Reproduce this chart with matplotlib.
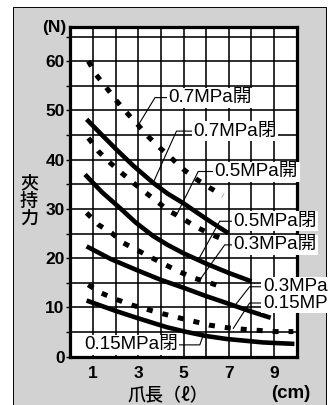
import numpy as np
import matplotlib
matplotlib.use('Agg')
import matplotlib.pyplot as plt
from matplotlib.patches import Rectangle

# Clamping force (N) vs. jaw length (cm)
x_07_open = [0.8, 1.13, 1.6, 2.05, 2.5, 3.0, 3.44, 3.96, 4.4, 4.98, 5.58, 6.16, 6.75]
y_07_open = [60.0, 57.3, 54.6, 51.9, 49.5, 47.0, 44.7, 42.4, 40.6, 38.1, 36.0, 34.3, 32.7]

x_07_close = [0.72, 1.4, 2.05, 2.8, 3.66, 4.3, 4.98, 6.0, 6.97]
y_07_close = [48.2, 45.0, 42.0, 38.7, 35.3, 33.1, 31.2, 28.0, 25.1]

x_05_open = [0.8, 1.24, 1.75, 2.27, 2.78, 3.3, 3.81, 4.32, 4.91, 5.5, 6.1, 6.75]
y_05_open = [44.4, 41.7, 39.4, 37.3, 35.3, 33.4, 31.6, 29.7, 28.2, 26.5, 25.1, 23.8]

x_05_close = [0.65, 1.4, 2.19, 2.9, 3.66, 4.3, 5.0, 6.0, 7.0, 8.0]
y_05_close = [37.0, 33.4, 30.2, 27.2, 24.5, 22.7, 21.0, 18.9, 17.0, 15.3]

x_03_open = [0.72, 1.24, 1.83, 2.34, 2.93, 3.59, 4.18, 4.8, 5.43, 6.16, 6.8]
y_03_open = [29.2, 26.8, 25.1, 23.1, 21.7, 20.1, 18.7, 17.3, 16.0, 15.0, 14.0]

x_03_close = [0.72, 1.8, 2.93, 4.0, 5.06, 6.0, 6.9, 7.9, 8.85]
y_03_close = [22.4, 19.8, 17.6, 15.6, 13.9, 12.3, 10.9, 9.3, 7.9]

x_015_open = [0.79, 1.38, 2.05, 2.78, 3.44, 4.1, 4.8, 5.43, 6.16, 6.9, 7.56, 8.29, 9.03, 9.85]
y_015_open = [14.6, 12.9, 11.6, 10.4, 9.55, 8.7, 7.9, 7.2, 6.4, 5.9, 5.6, 5.35, 5.1, 5.1]

x_015_close = [0.72, 2.0, 2.93, 4.25, 5.06, 6.0, 6.9, 8.5, 9.9]
y_015_close = [11.4, 9.3, 7.9, 6.0, 5.1, 4.2, 3.6, 2.9, 2.6]

x_ticks = [1, 3, 5, 7, 9]
y_ticks = [0, 10, 20, 30, 40, 50, 60]

curves = [
    (x_07_open, y_07_open, 'open'),
    (x_07_close, y_07_close, 'close'),
    (x_05_open, y_05_open, 'open'),
    (x_05_close, y_05_close, 'close'),
    (x_03_open, y_03_open, 'open'),
    (x_03_close, y_03_close, 'close'),
    (x_015_open, y_015_open, 'open'),
    (x_015_close, y_015_close, 'close'),
]

# label text, curve index, text x, text y, elbow x, target x, anchor
labels = [
    ('0.7MPa開', 0, 4.32, 52.6, 3.74, 3.0, 'left'),
    ('0.7MPa閉', 1, 5.43, 45.8, 4.69, 3.66, 'left'),
    ('0.5MPa開', 2, 6.38, 37.6, 5.65, 4.69, 'left'),
    ('0.5MPa閉', 3, 7.19, 27.5, 6.6, 5.65, 'left'),
    ('0.3MPa開', 4, 7.19, 22.7, 6.82, 5.72, 'left'),
    ('0.3MPa閉', 5, 8.51, 14.2, 7.92, 7.26, 'left'),
    ('0.15MPa開', 6, 8.51, 10.9, 7.92, 7.2, 'left'),
    ('0.15MPa閉', 7, 4.75, 2.4, 5.72, 5.87, 'right'),
]

plt.rcParams['font.family'] = ['Liberation Sans', 'Noto Sans CJK JP', 'DejaVu Sans']
CJK = ['Noto Sans CJK JP', 'DejaVu Sans']

W, H = 328, 405
fig = plt.figure(figsize=(W / 100, H / 100), dpi=100)
fig.patch.set_facecolor('white')

# grey panel behind the chart
panel = Rectangle((13 / W, -0.05), (325.5 - 13) / W, 1.05 - 7 / H,
                  transform=fig.transFigure, facecolor='#d2d2d2',
                  edgecolor='black', lw=0.7, zorder=-1)
fig.add_artist(panel)

ax = fig.add_axes([70.3 / W, 1 - 356.7 / H, (296.7 - 70.3) / W, (356.7 - 26.7) / H])
ax.set_facecolor('white')
ax.set_xlim(0, 10)
ax.set_ylim(0, 67)

ax.set_xticks(x_ticks)
ax.set_xticks(np.arange(0, 11), minor=True)
ax.set_yticks(y_ticks)
ax.set_yticks(np.arange(0, 66, 5), minor=True)
ax.grid(which='both', color='black', lw=1.15)
ax.set_axisbelow(True)
ax.tick_params(axis='x', which='both', length=0, pad=7, labelsize=12.5)
ax.tick_params(axis='y', which='both', length=3, width=1.0, pad=1, labelsize=12.5, direction='out')
for lbl in ax.get_xticklabels() + ax.get_yticklabels():
    lbl.set_fontweight('bold')
for sp in ax.spines.values():
    sp.set_linewidth(2.3)

for xs, ys, kind in curves:
    if kind == 'open':
        ax.plot(xs, ys, color='black', lw=3.6, ls=(0, (1.2, 2.0)),
                dash_capstyle='butt', dash_joinstyle='round', zorder=3)
    else:
        ax.plot(xs, ys, color='black', lw=3.3, solid_capstyle='butt',
                solid_joinstyle='round', zorder=3)

for text, idx, tx, ty, ex, px, ha in labels:
    cx, cy = curves[idx][0], curves[idx][1]
    py = np.interp(px, cx, cy)
    ax.plot([tx, ex, px], [ty, ty, py], color='black', lw=0.8,
            clip_on=False, zorder=4)
    ax.text(tx, ty, text, ha=ha, va='center', fontsize=13.5, zorder=6,
            clip_on=False,
            bbox=dict(boxstyle='square,pad=0.08', fc='white', ec='none'))

fig.text(66.7 / W, 1 - 27.5 / H, '(N)', ha='right', va='center',
         fontsize=12.5, fontweight='bold')
fig.text(29 / W, 1 - 201 / H, '夾\n持\n力', ha='center', va='center',
         fontsize=13, family=CJK, linespacing=1.0, fontweight='medium')
fig.text(167.5 / W, 1 - 396.7 / H, '爪長（ℓ）', ha='center', va='center',
         fontsize=13, family=CJK, fontweight='medium')
fig.text(291 / W, 1 - 393.5 / H, '(cm)', ha='center', va='center',
         fontsize=13.5, fontweight='bold')

fig.savefig('out.png', dpi=100)
